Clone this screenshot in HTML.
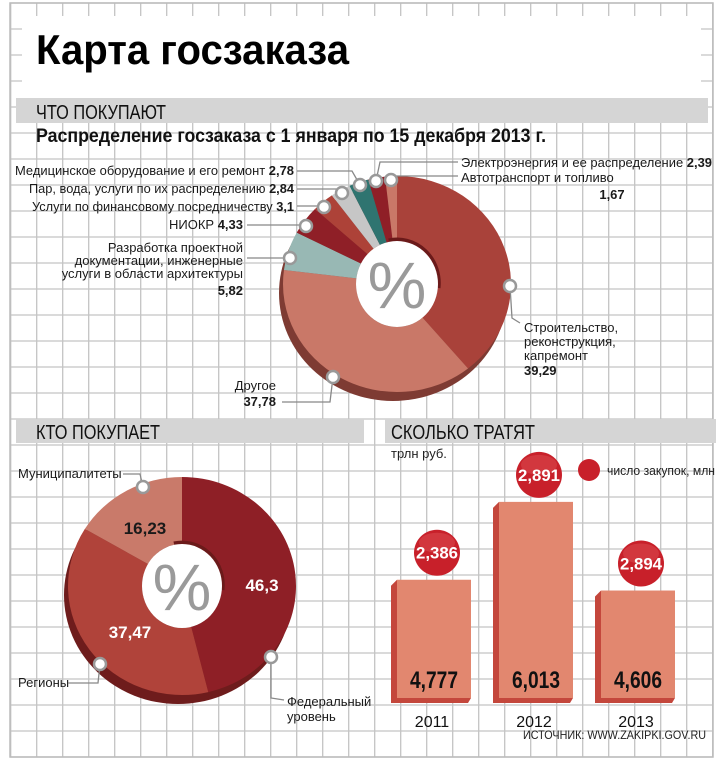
<!DOCTYPE html>
<html><head><meta charset="utf-8"><style>
html,body{margin:0;padding:0;background:#fff}
svg{display:block}
text{font-family:"Liberation Sans Narrow","Liberation Sans",sans-serif}
</style></head><body>
<svg id="s" width="722" height="760" viewBox="0 0 722 760" xmlns="http://www.w3.org/2000/svg">
<g id="grid"></g>
<rect x="22" y="16" width="679" height="84" fill="#fff"/>
<text x="36" y="64" font-family="Liberation Sans" font-weight="bold" font-size="42" fill="#000" textLength="313" lengthAdjust="spacingAndGlyphs">Карта госзаказа</text>
<rect x="16" y="98" width="692" height="25" fill="#d5d5d5"/>
<text x="36" y="119" font-size="20" fill="#111" textLength="130" lengthAdjust="spacingAndGlyphs">ЧТО ПОКУПАЮТ</text>
<text x="36" y="142" font-weight="bold" font-size="19" fill="#111" textLength="510" lengthAdjust="spacingAndGlyphs">Распределение госзаказа с 1 января по 15 декабря 2013 г.</text>
<g id="donut1"></g>
<g id="labels1"></g>
<rect x="16" y="419" width="348" height="24" fill="#d5d5d5"/>
<text x="36" y="439" font-size="20" fill="#111" textLength="124" lengthAdjust="spacingAndGlyphs">КТО ПОКУПАЕТ</text>
<rect x="385" y="419" width="331" height="24" fill="#d5d5d5"/>
<text x="391" y="439" font-size="20" fill="#111" textLength="144" lengthAdjust="spacingAndGlyphs">СКОЛЬКО ТРАТЯТ</text>
<g id="donut2"></g>
<g id="bars"></g>
<text x="391" y="458" font-size="13" fill="#222">трлн руб.</text>
<circle cx="589" cy="470" r="11" fill="#c8202a"/>
<text x="607" y="475" font-size="13" fill="#222" textLength="108" lengthAdjust="spacingAndGlyphs">число закупок, млн</text>
<text x="523" y="739" font-size="12" fill="#222" textLength="183" lengthAdjust="spacingAndGlyphs">ИСТОЧНИК: WWW.ZAKIPKI.GOV.RU</text>
</svg>
<script>
const NS="http://www.w3.org/2000/svg";
// --- top donut data
const d1Names=["Строительство","Другое","Разработка","НИОКР","Финансы","Пар","Медицинское","Электроэнергия","Автотранспорт"];
const d1Values=[39.29,37.78,5.82,4.33,3.1,2.84,2.78,2.39,1.67];
const d1Colors=["#a9423a","#c97868","#98b8b4","#8f1f27","#ad4238","#c6c6c6","#2f7470","#8f1f27","#c97868"];
// --- bottom donut data
const d2Names=["Федеральный уровень","Регионы","Муниципалитеты"];
const d2Values=[46.3,37.47,16.23];
const d2Colors=["#8e1f26","#b0433a","#c97a6a"];
// --- bars data
const years=["2011","2012","2013"];
const spend=[4.777,6.013,4.606];
const spendLabels=["4,777","6,013","4,606"];
const counts=["2,386","2,891","2,894"];

function el(tag,attrs,parent){const e=document.createElementNS(NS,tag);for(const k in attrs)e.setAttribute(k,attrs[k]);parent.appendChild(e);return e;}

// grid
const g=document.getElementById('grid');
for(let x=10.7;x<715;x+=26){const l=el('line',{x1:x,y1:3,x2:x,y2:757,stroke:'#c4c4c4','stroke-width':1.3},g);}
for(let y=3;y<760;y+=26){const l=el('line',{x1:10,y1:y,x2:713,y2:y,stroke:'#c4c4c4','stroke-width':1.3},g);}
el('rect',{x:10,y:3,width:703,height:754,fill:'none',stroke:'#bbb','stroke-width':1.5},g);

function seg(cx,cy,rx,ry,ri,rj,a0,a1){
  const p=(a,r1,r2)=>[cx+r1*Math.sin(a),cy-r2*Math.cos(a)];
  const large=(a1-a0)>Math.PI?1:0;
  const [x0,y0]=p(a0,rx,ry),[x1,y1]=p(a1,rx,ry),[x2,y2]=p(a1,ri,rj),[x3,y3]=p(a0,ri,rj);
  return `M${x0},${y0}A${rx},${ry} 0 ${large} 1 ${x1},${y1}L${x2},${y2}A${ri},${rj} 0 ${large} 0 ${x3},${y3}Z`;
}
function donut(gid,vals,cols,cx,cy,rx,ry,ri,rj,shadow,name){
  const G=document.getElementById(gid);
  const tot=vals.reduce((a,b)=>a+b,0);
  const sh=el('ellipse',{cx:cx-4,cy:cy+9,rx:rx,ry:ry,fill:shadow},G);
  
  let a=0;
  vals.forEach((v,i)=>{const a1=a+v/tot*2*Math.PI;
    const s=el('path',{d:seg(cx,cy,rx,ry,ri,rj,a,a1),fill:cols[i]},G);
    a=a1;});
  el('path',{d:`M${cx-ri*0.2},${cy-rj} A${ri},${rj} 0 0 1 ${cx+ri},${cy+4}`,fill:'none',stroke:'#6b1a1a','stroke-width':5},G);
  const h=el('ellipse',{cx:cx,cy:cy,rx:ri,ry:rj,fill:'#fff'},G);
  
  const t=el('text',{x:cx,y:cy+24,'text-anchor':'middle','font-size':66,fill:'#9a9a9a','font-family':'Liberation Sans'},G);t.textContent='%';
  
}
donut('donut1',d1Values,d1Colors,397,284,114,108,41,43,'#7e3b33','purchases');
donut('donut2',d2Values,d2Colors,182,586,114,109,40,42,'#6e1c1c','buyers');

// labels top
const L=document.getElementById('labels1');
function txt(x,y,s,opts,parent,name){const t=el('text',Object.assign({x:x,y:y,'font-size':13,fill:'#1a1a1a'},opts||{}),parent);t.innerHTML=s;return t;}
function lead(pts,parent){const p=el('polyline',{points:pts,fill:'none',stroke:'#888','stroke-width':1.3},parent);}
function mark(x,y,parent){const c=el('circle',{cx:x,cy:y,r:6,fill:'#fff',stroke:'#999','stroke-width':2.5},parent);}
const B={'font-weight':'bold'};
txt(294,175,'Медицинское оборудование и его ремонт <tspan font-weight="bold">2,78</tspan>',{'text-anchor':'end',textLength:279,lengthAdjust:'spacingAndGlyphs'},L,'label-medical');
txt(294,193,'Пар, вода, услуги по их распределению <tspan font-weight="bold">2,84</tspan>',{'text-anchor':'end',textLength:265,lengthAdjust:'spacingAndGlyphs'},L,'label-steam');
txt(294,211,'Услуги по финансовому посредничеству <tspan font-weight="bold">3,1</tspan>',{'text-anchor':'end',textLength:262,lengthAdjust:'spacingAndGlyphs'},L,'label-finance');
txt(243,229,'НИОКР <tspan font-weight="bold">4,33</tspan>',{'text-anchor':'end'},L,'label-rnd');
txt(243,252,'Разработка проектной',{'text-anchor':'end'},L,'label-design');
txt(243,265,'документации, инженерные',{'text-anchor':'end'},L,'label-design');
txt(243,278,'услуги в области архитектуры',{'text-anchor':'end'},L,'label-design');
txt(243,295,'5,82',Object.assign({'text-anchor':'end'},B),L,'label-design-value');
txt(461,167,'Электроэнергия и ее распределение <tspan font-weight="bold">2,39</tspan>',{textLength:251,lengthAdjust:'spacingAndGlyphs'},L,'label-power');
txt(461,182,'Автотранспорт и топливо',{},L,'label-auto');
txt(612,199,'1,67',Object.assign({'text-anchor':'middle'},B),L,'label-auto-value');
txt(524,332,'Строительство,',{},L,'label-construction');
txt(524,346,'реконструкция,',{},L,'label-construction');
txt(524,360,'капремонт',{},L,'label-construction');
txt(524,375,'39,29',B,L,'label-construction-value');
txt(276,390,'Другое',{'text-anchor':'end'},L,'label-other');
txt(276,406,'37,78',Object.assign({'text-anchor':'end'},B),L,'label-other-value');
lead('297,171 352,171 360,185',L);lead('297,189 338,189 342,193',L);lead('297,206 324,206',L);
lead('247,225 306,225',L);lead('247,258 290,258',L);
lead('458,162 380,162 376,181',L);lead('458,176 391,176 391,180',L);
lead('510,286 512,318 520,323',L);lead('282,402 330,402 333,377',L);
[[510,286],[333,377],[290,258],[306,226],[324,207],[342,193],[360,185],[376,181],[391,180]].forEach(p=>mark(p[0],p[1],L));

// labels bottom donut
const D2=document.getElementById('donut2');
txt(145,534,'16,23',{'text-anchor':'middle','font-weight':'bold','font-size':17},D2,'value-municipal');
txt(262,591,'46,3',{'text-anchor':'middle','font-weight':'bold','font-size':17,fill:'#fff'},D2,'value-federal');
txt(130,638,'37,47',{'text-anchor':'middle','font-weight':'bold','font-size':17,fill:'#fff'},D2,'value-regions');
txt(18,478,'Муниципалитеты',{},D2,'label-municipal');
txt(18,687,'Регионы',{},D2,'label-regions');
txt(287,706,'Федеральный',{},D2,'label-federal');
txt(287,721,'уровень',{},D2,'label-federal');
lead('123,474 140,474 143,487',D2);lead('68,683 98,683 100,664',D2);lead('271,657 271,698 284,700',D2);
mark(143,487,D2);mark(100,664,D2);mark(271,657,D2);

// bars
const BG=document.getElementById('bars');
const base=698, x0=397, step=102, bw=74;
const yScale=v=>base-(v-2.9)*63;
spend.forEach((v,i)=>{
  const x=x0+i*step, top=yScale(v);
  const side=el('polygon',{points:`${x-6},${top+6} ${x},${top} ${x},${base} ${x+bw},${base} ${x+bw-3},${base+5} ${x-6},${base+5}`,fill:'#c4473c'},BG);
  
  const r=el('rect',{x:x,y:top,width:bw,height:base-top,fill:'#e2876f'},BG);
  
  txt(x+bw/2,688,spendLabels[i],{'text-anchor':'middle','font-weight':'bold','font-size':24,fill:'#111',textLength:48,lengthAdjust:'spacingAndGlyphs'},BG,'bar-value');
  txt(x+bw/2-2,727,years[i],{'text-anchor':'middle','font-size':16,fill:'#111'},BG,'year-label');
  const cy=top-27;
  const c=el('circle',{cx:x+bw/2+3,cy:cy,r:23,fill:'#c8202a'},BG);
  
  el('ellipse',{cx:x+bw/2+3,cy:cy-10,rx:18,ry:10,fill:'#d8474d',opacity:0.6},BG);
  txt(x+bw/2+3,cy+6,counts[i],{'text-anchor':'middle','font-weight':'bold','font-size':17,fill:'#fff',textLength:42,lengthAdjust:'spacingAndGlyphs'},BG,'count-value');
});
</script>
</body></html>
